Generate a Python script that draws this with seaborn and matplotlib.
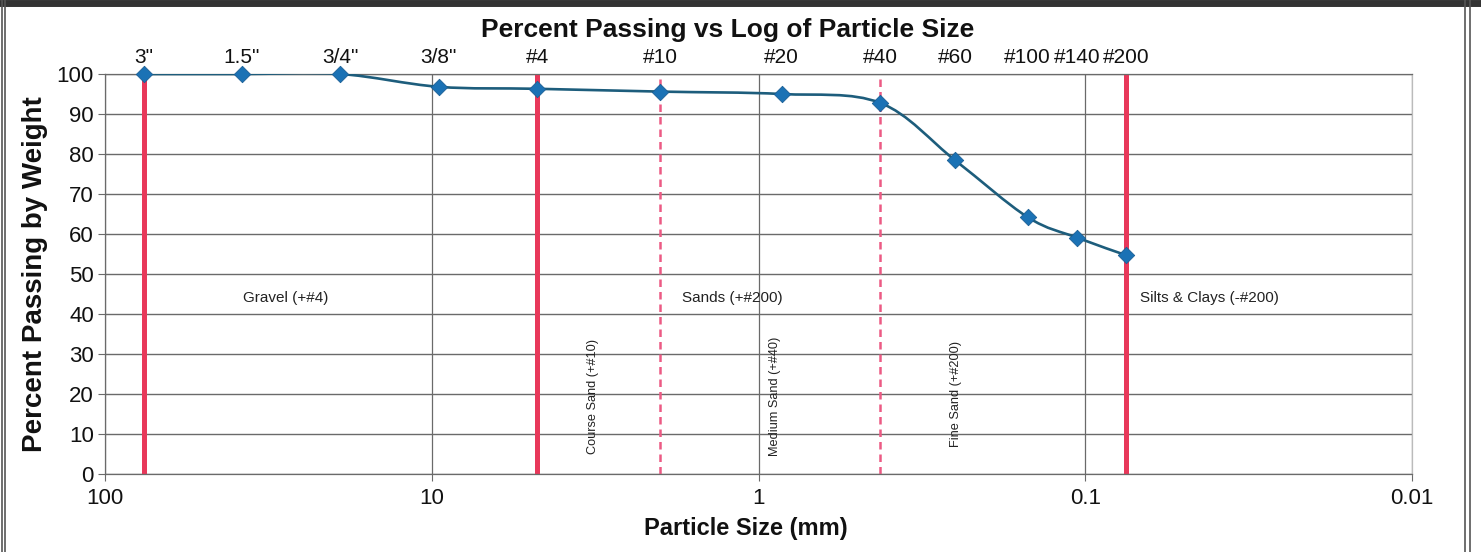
import numpy as np
import pandas as pd
import seaborn as sns
import matplotlib
matplotlib.use("Agg")
import matplotlib.pyplot as plt
from matplotlib.path import Path
from matplotlib.patches import PathPatch
from matplotlib.lines import Line2D

# Sieve analysis data
sieve_labels = ['3"', '1.5"', '3/4"', '3/8"', '#4', '#10', '#20', '#40', '#60', '#100', '#140', '#200']
sieve_size_mm = [76.2, 38.1, 19.05, 9.525, 4.75, 2.0, 0.85, 0.425, 0.25, 0.15, 0.106, 0.075]
percent_passing = [100.0, 100.0, 100.0, 96.8, 96.3, 95.6, 95.0, 92.8, 78.4, 64.2, 59.1, 54.7]

# Soil classification boundaries (mm)
major_bounds = [76.2, 4.75, 0.075]
minor_bounds = [2.0, 0.425]

x_ticks = [100, 10, 1, 0.1, 0.01]
x_tick_labels = ["100", "10", "1", "0.1", "0.01"]
y_ticks = list(range(0, 101, 10))

sns.set_theme(style="white")
plt.rcParams["font.family"] = ["Liberation Sans", "DejaVu Sans"]

df = pd.DataFrame({"size": sieve_size_mm, "passing": percent_passing, "sieve": sieve_labels})

fig = plt.figure(figsize=(14.81, 5.52), dpi=100)
ax = fig.add_axes([105 / 1481, 1 - 474 / 552, (1412 - 105) / 1481, 400 / 552])
ax.set_xscale("log")
ax.set_xlim(100, 0.01)
ax.set_ylim(0, 100)

# grid
for yv in y_ticks:
    ax.axhline(yv, color="#6a6a6a", lw=1.0, zorder=0)
for xv in x_ticks:
    ax.axvline(xv, color="#6a6a6a", lw=0.9, zorder=0)

# classification boundaries
for b in major_bounds:
    ax.axvline(b, color="#e8385a", lw=3.6, zorder=2)
for b in minor_bounds:
    ax.axvline(b, color="#ec5a84", lw=1.8, ls=(0, (3, 2)), zorder=2)

# smoothed gradation curve (Catmull-Rom Bezier in log-x space)
lx = np.log10(df["size"].to_numpy())
yy = df["passing"].to_numpy()
pts = np.column_stack([lx, yy])
verts = [pts[0]]
codes = [Path.MOVETO]
n = len(pts)
for i in range(n - 1):
    p0 = pts[i - 1] if i > 0 else pts[i]
    p1 = pts[i]
    p2 = pts[i + 1]
    p3 = pts[i + 2] if i + 2 < n else pts[i + 1]
    c1 = p1 + (p2 - p0) / 6.0
    c2 = p2 - (p3 - p1) / 6.0
    verts += [c1, c2, p2]
    codes += [Path.CURVE4] * 3
verts = np.array(verts)
verts[:, 0] = 10 ** verts[:, 0]
ax.add_patch(PathPatch(Path(verts, codes), fill=False, edgecolor="#1d5d7c", lw=1.9, zorder=3))

sns.scatterplot(data=df, x="size", y="passing", marker="D", s=70, color="#1b72b5",
                edgecolor="#1b5f95", linewidth=0.6, zorder=4, ax=ax, legend=False, clip_on=False)

# sieve names above the plot
for s, lab in zip(sieve_size_mm, sieve_labels):
    ax.text(s, 101.8, lab, ha="center", va="bottom", fontsize=15, color="#111")

# zone labels
ax.text(28, 44, "Gravel (+#4)", ha="center", va="center", fontsize=11, color="#222")
ax.text(1.2, 44, "Sands (+#200)", ha="center", va="center", fontsize=11, color="#222")
ax.text(0.068, 44, "Silts & Clays (-#200)", ha="left", va="center", fontsize=11, color="#222")
ax.text(3.22, 19.5, "Course Sand (+#10)", rotation=90, ha="center", va="center", fontsize=9.2, color="#222")
ax.text(0.89, 19.5, "Medium Sand (+#40)", rotation=90, ha="center", va="center", fontsize=9.2, color="#222")
ax.text(0.248, 20, "Fine Sand (+#200)", rotation=90, ha="center", va="center", fontsize=9.2, color="#222")

ax.set_xticks(x_ticks)
ax.set_xticklabels(x_tick_labels)
ax.xaxis.set_minor_locator(matplotlib.ticker.NullLocator())
ax.set_yticks(y_ticks)
ax.tick_params(axis="both", which="major", direction="out", length=5, width=0.8, color="#6a6a6a",
               labelsize=16, labelcolor="#111", pad=3)
ax.tick_params(axis="x", pad=5, bottom=True)
ax.tick_params(axis="y", left=True)

for side in ["left", "bottom", "top"]:
    ax.spines[side].set_color("#6a6a6a")
    ax.spines[side].set_linewidth(0.9)
ax.spines["right"].set_color("#bbbbbb")
ax.spines["right"].set_linewidth(0.9)

ax.set_xlabel("")
ax.set_ylabel("")
fig.text(746 / 1481, 1 - 529 / 552, "Particle Size (mm)", ha="center", va="center",
         fontsize=17, fontweight="bold", color="#111")
fig.text(35 / 1481, 1 - 274 / 552, "Percent Passing by Weight", ha="center", va="center", rotation=90,
         fontsize=20, fontweight="bold", color="#111")
fig.text(728 / 1481, 1 - 30 / 552, "Percent Passing vs Log of Particle Size", ha="center", va="center",
         fontsize=19, fontweight="bold", color="#111")

# outer frame
fig.add_artist(Line2D([0, 1], [1 - 3 / 552, 1 - 3 / 552], transform=fig.transFigure, color="#333", lw=5))
for xp in [1.5, 4.5, 1464.5, 1469.5]:
    fig.add_artist(Line2D([xp / 1481, xp / 1481], [0, 1], transform=fig.transFigure, color="#555", lw=1.2))

fig.savefig("out.png", dpi=100)
